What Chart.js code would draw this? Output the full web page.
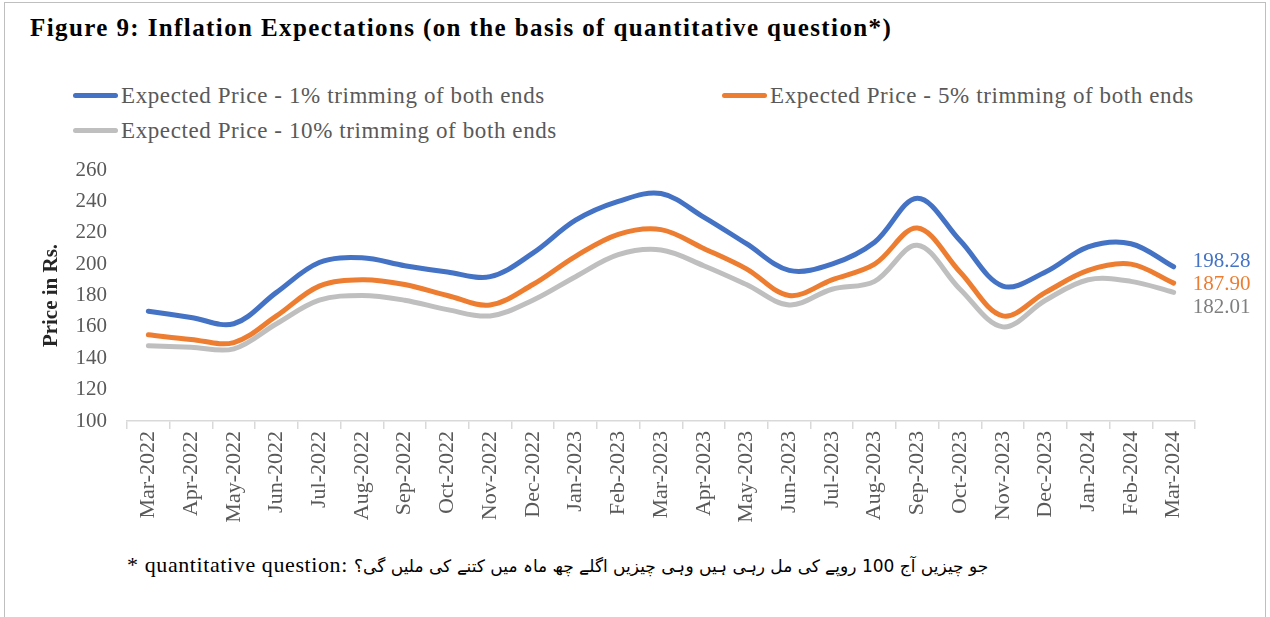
<!DOCTYPE html>
<html>
<head>
<meta charset="utf-8">
<script src="https://cdn.jsdelivr.net/npm/chart.js@4.4.1/dist/chart.umd.min.js"></script>
<style>
  html, body { margin: 0; padding: 0; background: #fff; }
  body { width: 1270px; height: 617px; position: relative; overflow: hidden; font-family: "Liberation Serif", serif; }
  #frame { position: absolute; left: 4px; top: 2px; width: 1262px; height: 640px; border: 1px solid #bfbfbf; box-sizing: border-box; }
  #title { position: absolute; left: 30px; top: 14px; font-size: 25px; letter-spacing: 1.4px; font-weight: bold; color: #000; white-space: nowrap; }
  #legend { position: absolute; left: 73px; top: 78px; width: 1320px; display: flex; flex-wrap: wrap; }
  .item { width: 649px; height: 35px; display: flex; align-items: center; font-size: 23px; letter-spacing: 0.6px; color: #595959; white-space: nowrap; }
  .swatch { width: 45px; height: 5px; border-radius: 3px; margin-right: 3px; }
  #note { position: absolute; left: 127px; top: 552px; font-size: 22px; letter-spacing: 0.6px; color: #000; white-space: nowrap; }
  #note .ur { font-family: "DejaVu Sans", sans-serif; font-size: 17px; letter-spacing: 0; }
  canvas { position: absolute; left: 0; top: 0; }
</style>
</head>
<body>
<div id="frame"></div>
<div id="title">Figure 9: Inflation Expectations (on the basis of quantitative question*)</div>
<div id="legend"></div>
<div id="note">* quantitative question: <span class="ur" dir="rtl">جو چیزیں آج 100 روپے کی مل رہی ہیں وہی چیزیں اگلے چھ ماہ میں کتنے کی ملیں گی؟</span></div>
<canvas id="chart" width="1270" height="617"></canvas>
<script>
// Months on the x axis
const months = ["Mar-2022", "Apr-2022", "May-2022", "Jun-2022", "Jul-2022", "Aug-2022", "Sep-2022",
  "Oct-2022", "Nov-2022", "Dec-2022", "Jan-2023", "Feb-2023", "Mar-2023", "Apr-2023", "May-2023",
  "Jun-2023", "Jul-2023", "Aug-2023", "Sep-2023", "Oct-2023", "Nov-2023", "Dec-2023", "Jan-2024",
  "Feb-2024", "Mar-2024"];

// Expected price series (last values as labelled)
const trim1 = [170, 166, 162, 182, 201, 204, 199, 195, 192, 207, 228, 240, 245, 230, 213,
  196, 200, 214, 242, 215, 186, 195, 211, 213, 198.28];
const trim5 = [155, 152, 150, 167, 186, 190, 187, 180, 174, 187, 205, 219, 222, 210, 197,
  180, 190, 200, 223, 195, 167, 182, 196, 200, 187.90];
const trim10 = [148, 147, 146, 162, 177, 180, 177, 171, 167, 177, 192, 206, 209, 199, 187,
  174, 184, 189, 212, 184, 160, 177, 190, 189, 182.01];

const seriesNames = ["Expected Price - 1% trimming of both ends",
  "Expected Price - 5% trimming of both ends",
  "Expected Price - 10% trimming of both ends"];
const yTicks = [100, 120, 140, 160, 180, 200, 220, 240, 260];

const lineColors = ["#4472C4", "#ED7D31", "#BFBFBF"];
const labelColors = ["#4472C4", "#ED7D31", "#7F7F7F"];

// html legend, two columns like the original
const legendBox = document.getElementById("legend");
seriesNames.forEach((name, i) => {
  const item = document.createElement("div");
  item.className = "item";
  item.innerHTML = '<span class="swatch" style="background:' + lineColors[i] + '"></span>' + name;
  legendBox.appendChild(item);
});

// value labels at the end of each line, spread so they do not overlap
const endLabels = {
  id: "endLabels",
  afterDatasetsDraw(chart) {
    const ctx = chart.ctx;
    const items = chart.data.datasets.map((ds, i) => {
      const meta = chart.getDatasetMeta(i);
      const pt = meta.data[meta.data.length - 1];
      return { x: pt.x, y: pt.y, text: ds.data[ds.data.length - 1].toFixed(2), color: labelColors[i] };
    }).sort((a, b) => a.y - b.y);
    const gap = 23;
    const mean = items.reduce((s, it) => s + it.y, 0) / items.length;
    const start = mean - gap * (items.length - 1) / 2 + 4;
    ctx.save();
    ctx.font = '21px "Liberation Serif"';
    ctx.textAlign = "left";
    ctx.textBaseline = "middle";
    items.forEach((it, k) => {
      ctx.fillStyle = it.color;
      ctx.fillText(it.text, it.x + 19, start + k * gap);
    });
    ctx.restore();
  }
};

const ctx = document.getElementById("chart").getContext("2d");
new Chart(ctx, {
  type: "line",
  data: {
    labels: months,
    datasets: [trim1, trim5, trim10].map((vals, i) => ({
      label: seriesNames[i],
      data: vals,
      borderColor: lineColors[i],
      backgroundColor: lineColors[i],
      borderWidth: 5,
      borderCapStyle: "round",
      pointRadius: 0,
      tension: 0.35,
      fill: false,
    })),
  },
  options: {
    responsive: false,
    animation: false,
    layout: { padding: { left: 35, top: 170, right: 75, bottom: 80 } },
    plugins: {
      legend: { display: false },
      tooltip: { enabled: false },
    },
    scales: {
      x: {
        offset: true,
        grid: { display: true, drawOnChartArea: false, offset: true, color: "#d9d9d9", tickLength: 8, lineWidth: 1.5 },
        border: { color: "#d9d9d9", width: 1.5 },
        ticks: {
          autoSkip: false, minRotation: 90, maxRotation: 90, padding: 2,
          color: "#595959", font: { family: "Liberation Serif", size: 22 },
        },
        afterFit(scale) { scale.height = 617 - 421 - 80; },
      },
      y: {
        min: 100, max: 260,
        afterBuildTicks(scale) { scale.ticks = yTicks.map(v => ({ value: v })); },
        grid: { display: false, drawTicks: false },
        border: { display: false },
        ticks: { padding: 20, color: "#595959", font: { family: "Liberation Serif", size: 21 } },
        title: {
          display: true, text: "Price in Rs.", color: "#262626", padding: 4,
          font: { family: "Liberation Serif", size: 21, weight: "bold" },
        },
        afterFit(scale) { scale.width = 127 - 35; },
      },
    },
  },
  plugins: [endLabels],
});
</script>
</body>
</html>
